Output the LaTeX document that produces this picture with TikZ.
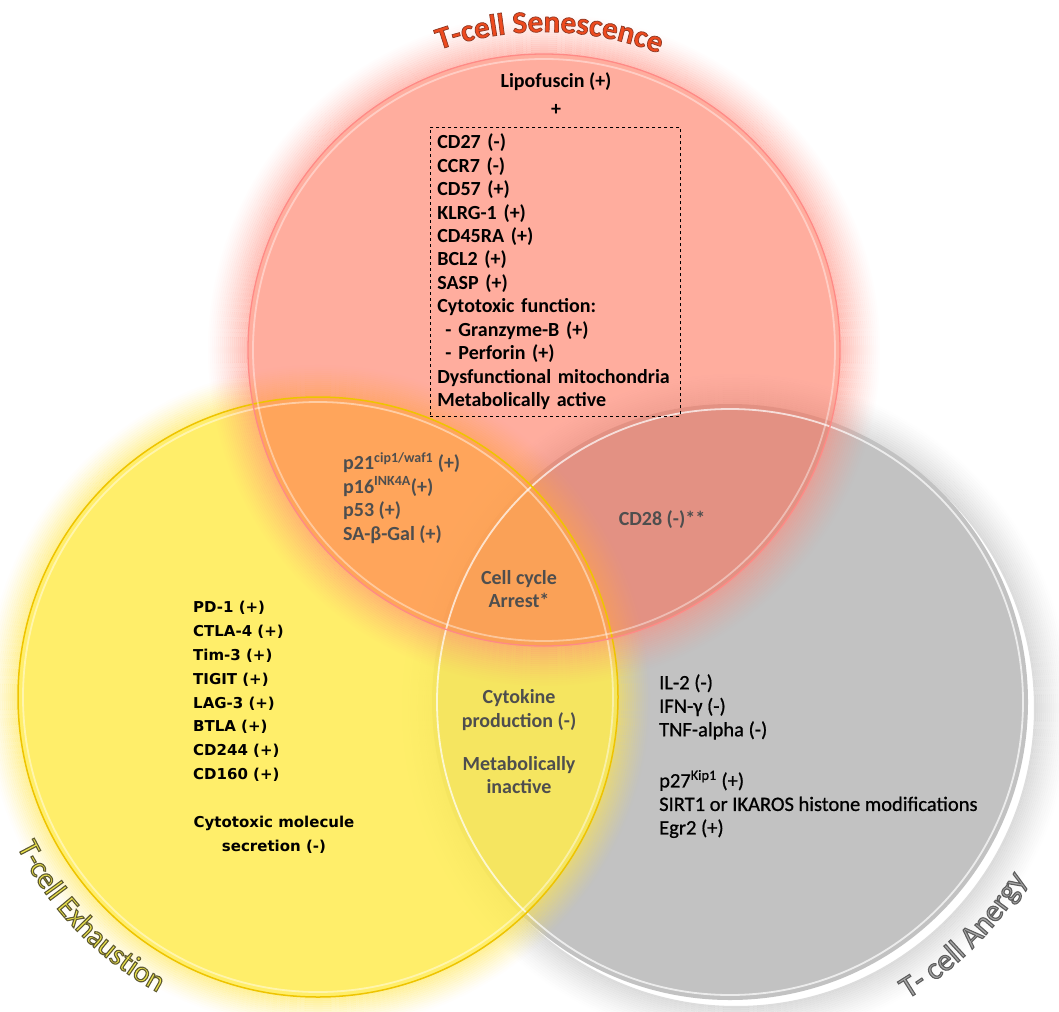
\documentclass[tikz,border=0pt]{standalone}
\usepackage{fontspec}
\setmainfont{Carlito}
\newfontfamily\widefont{DejaVu Sans}
\newfontfamily\medfont{Carlito}[FakeBold=0.8]
\usetikzlibrary{decorations.text}

\definecolor{senfill}{HTML}{FF6A50}
\definecolor{senglow}{HTML}{FF8A7A}
\definecolor{senedge}{HTML}{FF8A86}
\definecolor{senttl}{HTML}{EE4A1E}
\definecolor{exhfill}{HTML}{FFEC50}
\definecolor{exhglow}{HTML}{FFE64A}
\definecolor{exhedge}{HTML}{EEC400}
\definecolor{exhttl}{HTML}{EDE44A}
\definecolor{anefill}{HTML}{C2C2C2}
\definecolor{aneglow}{HTML}{B8B8B8}
\definecolor{anettl}{HTML}{A8A8A8}
\definecolor{ovtext}{HTML}{4E4E4E}

% outlined lettering: fill with the current colour, stroke with the given one
\newcommand\strokedtext[2]{\special{pdf:literal direct #1 RG #2 w 2 Tr}}
\newcommand\plaintext{\special{pdf:literal direct 0 Tr}}

\newcommand\sentitlefont{\fontsize{31}{31}\selectfont\bfseries\color{senttl}\strokedtext{0.55 0.22 0.14}{0.7}}
\newcommand\exhtitlefont{\fontsize{30}{30}\selectfont\color{exhttl}\strokedtext{0.37 0.35 0.19}{1.1}}
\newcommand\anetitlefont{\fontsize{31}{31}\selectfont\color{anettl}\strokedtext{0.37 0.37 0.37}{1.1}}

% soft halo of rings around a circle
\newcommand\halo[5]{% colour, centre, radius, rings, strength
  \foreach \d in {1,...,#4}{%
    \pgfmathsetmacro\op{#5*(1-\d/(#4+1))^1.3}%
    \pgfmathsetmacro\rr{#3+2*\d-1}%
    \draw[#1, line width=2.05pt, opacity=\op] (#2) circle[radius=\rr];}}

\begin{document}
\begin{tikzpicture}[x=1pt, y=1pt,
  every node/.style={inner sep=0pt},
  listtext/.style={font=\fontsize{20}{23.45}\selectfont\bfseries, align=left},
  exhtext/.style={font=\widefont\fontsize{15}{23.8}\selectfont\bfseries, align=left},
  anetext/.style={font=\medfont\fontsize{20.5}{23.5}\selectfont, align=left},
  ovltext/.style={font=\fontsize{20}{23.5}\selectfont\bfseries, text=ovtext},
  rimtitle/.style={decorate, decoration={text along path, text align=center, text={#1}}},
]
\useasboundingbox (0,0) rectangle (1059,-1011);
\fill[white] (0,0) rectangle (1059,-1011);

\coordinate (Rc) at (544,-350);
\coordinate (Yc) at (318,-697);
\coordinate (Gc) at (730,-702);
\coordinate (Gs) at (736,-708);

% anergy circle
\halo{aneglow}{Gs}{298}{18}{0.5}
\fill[anefill] (Gc) circle[radius=298];

% exhaustion circle
\halo{exhglow}{Yc}{300}{16}{0.6}
\fill[exhfill, opacity=0.85] (Yc) circle[radius=300];

% senescence circle
\halo{senglow}{Rc}{296}{20}{0.55}
\fill[senfill, opacity=0.55] (Rc) circle[radius=296];

% rims and highlights
\draw[white, opacity=0.7, line width=1.8pt] (Gc) circle[radius=293];
\draw[exhedge, line width=1.5pt] (Yc) circle[radius=300];
\draw[white, opacity=0.45, line width=1.8pt] (Yc) circle[radius=295];
\draw[senedge, line width=1.3pt] (Rc) circle[radius=296];
\draw[white, opacity=0.4, line width=1.8pt] (Rc) circle[radius=291];

% titles along the rims
\path[shift={(Rc)}, rimtitle={|\sentitlefont|T-cell Senescence}]
  (135:318) arc[start angle=135, end angle=43, radius=318];
\plaintext
\path[shift={(Yc)}, rimtitle={|\exhtitlefont|T-cell Exhaustion}]
  (180:336) arc[start angle=180, end angle=268, radius=336];
\plaintext
\path[shift={(Gc)}, rimtitle={|\anetitlefont|T- cell Anergy}]
  (-90:346) arc[start angle=-90, end angle=0, radius=346];
\plaintext

% senescence markers
\node[listtext] (lipo) at (556,-82) {Lipofuscin (+)};
\node[listtext] (plus) at (556,-110) {+};
\node[listtext, draw, dashed, line width=0.7pt, anchor=north west,
  minimum width=250pt, minimum height=289pt, text width=236pt, inner xsep=7pt]
  (senlist) at (430,-127) {CD27 (-)\\CCR7 (-)\\CD57 (+)\\KLRG-1 (+)\\CD45RA (+)\\BCL2 (+)\\SASP (+)\\Cytotoxic function:\\
  \hspace*{8pt}-\hspace{7pt}Granzyme-B (+)\\\hspace*{8pt}-\hspace{7pt}Perforin (+)\\Dysfunctional mitochondria\\Metabolically active};

% exhaustion markers
\node[exhtext, anchor=west] (exhlist) at (193,-691.5)
  {PD-1 (+)\\CTLA-4 (+)\\Tim-3 (+)\\TIGIT (+)\\LAG-3 (+)\\BTLA (+)\\CD244 (+)\\CD160 (+)};
\node[exhtext, align=center] (exhsec) at (274,-835) {Cytotoxic molecule\\secretion (-)};

% anergy markers
\node[anetext, anchor=west] (anecyt) at (659,-707) {IL-2 (-)\\IFN-γ (-)\\TNF-alpha (-)};
\node[anetext, anchor=west] (anemol) at (659,-804)
  {p27\textsuperscript{Kip1} (+)\\SIRT1 or IKAROS histone modifications\\Egr2 (+)};

% shared features
\node[ovltext, align=left, anchor=west] (cyc) at (343,-498)
  {p21\textsuperscript{cip1/waf1} (+)\\p16\textsuperscript{INK4A}(+)\\p53 (+)\\SA-β-Gal (+)};
\node[ovltext, align=center] (arrest) at (519,-589) {Cell cycle\\Arrest*};
\node[ovltext] (cd28) at (662,-520) {CD28 (-)**};
\node[ovltext, align=center] (cytok) at (519,-710) {Cytokine\\production (-)};
\node[ovltext, align=center] (metab) at (519,-775) {Metabolically\\inactive};
\end{tikzpicture}
\end{document}
